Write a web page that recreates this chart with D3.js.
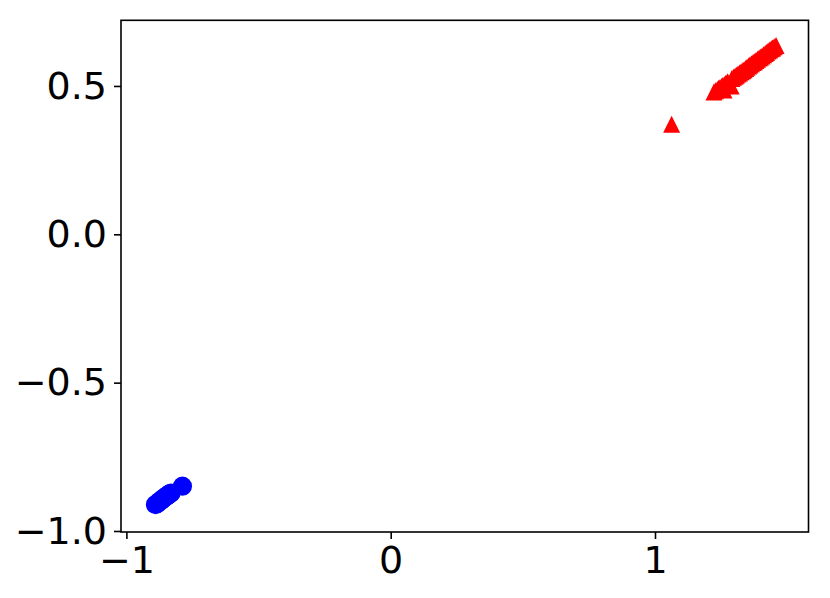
<!DOCTYPE html>
<html>
<head>
<meta charset="utf-8">
<script src="https://cdn.jsdelivr.net/npm/d3@7"></script>
<style>
  body { margin: 0; background: #fff; }
  svg { display: block; }
  .tick text { font-family: "DejaVu Sans", sans-serif; }
</style>
</head>
<body>
<div id="chart"></div>
<script>
const width = 830;
const height = 598;

// blue circles (lower-left cluster)
const blueX = [-0.890, -0.884, -0.880, -0.873, -0.869, -0.865, -0.858, -0.854, -0.850, -0.843, -0.837, -0.831, -0.788];
const blueY = [-0.911, -0.908, -0.905, -0.899, -0.897, -0.894, -0.889, -0.886, -0.884, -0.879, -0.875, -0.872, -0.849];

// red triangles (upper-right cluster + one outlier)
const redX = [1.063, 1.223, 1.229, 1.236, 1.241, 1.246, 1.252, 1.257, 1.261, 1.265, 1.269, 1.275, 1.280,
  1.288, 1.291, 1.297, 1.303, 1.308, 1.314, 1.320, 1.326, 1.332, 1.337, 1.343, 1.348, 1.354, 1.359,
  1.365, 1.371, 1.376, 1.382, 1.388, 1.394, 1.399, 1.405, 1.411, 1.417, 1.422, 1.428, 1.434, 1.440,
  1.445, 1.451, 1.458];
const redY = [0.371, 0.480, 0.484, 0.488, 0.492, 0.495, 0.498, 0.502, 0.486, 0.507, 0.510, 0.514, 0.505,
  0.500, 0.525, 0.529, 0.533, 0.536, 0.540, 0.544, 0.548, 0.551, 0.555, 0.559, 0.563, 0.567, 0.571,
  0.575, 0.579, 0.582, 0.586, 0.590, 0.594, 0.597, 0.601, 0.605, 0.609, 0.613, 0.618, 0.621, 0.625,
  0.628, 0.632, 0.636];

const xTicks = [-1, 0, 1];
const xTickLabels = ["\u22121", "0", "1"];
const yTicks = [-1.0, -0.5, 0.0, 0.5];
const yTickLabels = ["\u22121.0", "\u22120.5", "0.0", "0.5"];

const svg = d3.select("#chart")
  .append("svg")
  .attr("width", width)
  .attr("height", height);

const xScale = d3.scaleLinear()
  .domain([-1.0204, 1.5808])
  .range([121, 808.5]);

const yScale = d3.scaleLinear()
  .domain([-1.0034, 0.7213])
  .range([532, 20.3]);

// points
const blue = blueX.map((x, i) => [x, blueY[i]]);
const red = redX.map((x, i) => [x, redY[i]]);

svg.append("g")
  .selectAll("circle")
  .data(blue)
  .enter()
  .append("circle")
  .attr("cx", d => xScale(d[0]))
  .attr("cy", d => yScale(d[1]))
  .attr("r", 9.6)
  .attr("fill", "#0000ff");

// matplotlib '^' : width = height = markersize, centred at mid-height
const s = 17;
const triPath = `M0,${-s / 2}L${s / 2},${s / 2}L${-s / 2},${s / 2}Z`;

svg.append("g")
  .selectAll("path")
  .data(red)
  .enter()
  .append("path")
  .attr("d", triPath)
  .attr("transform", d => `translate(${xScale(d[0])},${yScale(d[1])})`)
  .attr("fill", "#ff0000");

// axes
const xAxis = svg.append("g")
  .attr("transform", "translate(0,532)")
  .call(d3.axisBottom(xScale)
    .tickValues(xTicks)
    .tickFormat((d, i) => xTickLabels[i])
    .tickSizeInner(7)
    .tickSizeOuter(0)
    .tickPadding(7));

const yAxis = svg.append("g")
  .attr("transform", "translate(121,0)")
  .call(d3.axisLeft(yScale)
    .tickValues(yTicks)
    .tickFormat((d, i) => yTickLabels[i])
    .tickSizeInner(7)
    .tickSizeOuter(0)
    .tickPadding(7));

[xAxis, yAxis].forEach(g => {
  g.select(".domain").remove();
  g.selectAll(".tick line").attr("stroke", "#000").attr("stroke-width", 1.6);
  g.selectAll(".tick text").attr("font-size", 38).attr("fill", "#000");
});

// frame
svg.append("rect")
  .attr("x", 121)
  .attr("y", 20.3)
  .attr("width", 808.5 - 121)
  .attr("height", 532 - 20.3)
  .attr("fill", "none")
  .attr("stroke", "#000")
  .attr("stroke-width", 1.6);
</script>
</body>
</html>
